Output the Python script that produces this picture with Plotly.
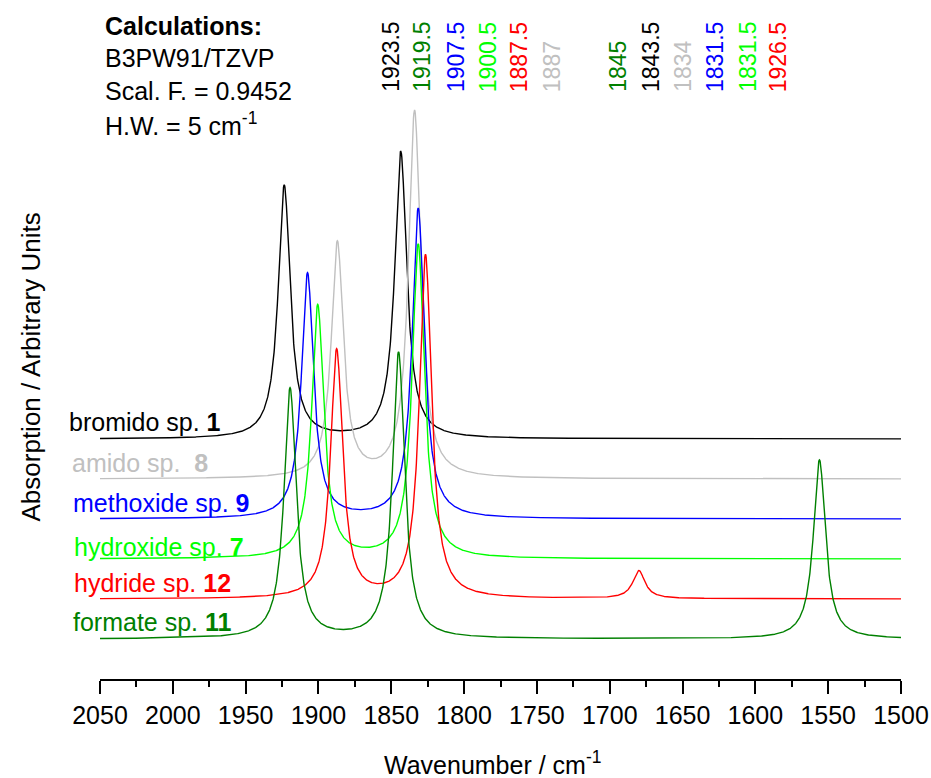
import numpy as np
import plotly.graph_objects as go

# ---------------- data ----------------
species = ["bromido sp. ", "amido sp. \u00a0", "methoxide sp. ", "hydroxide sp. ", "hydride sp. ", "formate sp. "]
numbers = ["1", "8", "9", "7", "12", "11"]
offsets = [200, 160, 120, 80, 40, 0]
peaks_bromido = [1923.5, 1843.5]
amps_bromido = [253, 287]
peaks_amido = [1887, 1834]
amps_amido = [235, 367]
peaks_methoxide = [1907.5, 1831.5]
amps_methoxide = [245, 310]
peaks_hydroxide = [1900.5, 1831.5]
amps_hydroxide = [253, 314]
peaks_hydride = [1887.5, 1826.5, 1680]
amps_hydride = [248, 343, 28]
peaks_formate = [1919.5, 1845, 1556]
amps_formate = [250, 286, 179]
half_width = 5.0  # cm^-1 (H.W.)

peak_labels = ["1923.5", "1919.5", "1907.5", "1900.5", "1887.5", "1887",
               "1845", "1843.5", "1834", "1831.5", "1831.5", "1926.5"]
peak_label_series = [0, 5, 2, 3, 4, 1, 5, 0, 1, 2, 3, 4]

x_ticks = list(range(1500, 2051, 50))

info_lines = ["<b>Calculations:</b>", "B3PW91/TZVP", "Scal. F. = 0.9452", "H.W. = 5 cm<sup>-1</sup>"]

# ---------------- style ----------------
colors = ["#000000", "#c0c0c0", "#0000ff", "#00ff00", "#ff0000", "#008000"]
FONT = "Liberation Sans, Arial, Helvetica, sans-serif"
FS = 25

W, H = 931, 778
ML, MR, MT, MB = 100, 30, 20, 99
PL, PR = ML, W - MR
PH = H - MT - MB


def px_x(p):
    return (p - PL) / (PR - PL)


def px_y(p):
    return (H - MB - p) / PH


all_peaks = [peaks_bromido, peaks_amido, peaks_methoxide, peaks_hydroxide, peaks_hydride, peaks_formate]
all_amps = [amps_bromido, amps_amido, amps_methoxide, amps_hydroxide, amps_hydride, amps_formate]

wn = np.linspace(2050, 1500, 2201)

fig = go.Figure()
for i in range(len(species)):
    y = np.full_like(wn, offsets[i], dtype=float)
    for p, a in zip(all_peaks[i], all_amps[i]):
        y += a * half_width ** 2 / ((wn - p) ** 2 + half_width ** 2)
    fig.add_trace(go.Scatter(x=wn, y=y, mode="lines",
                             line=dict(color=colors[i], width=1.4),
                             showlegend=False, hoverinfo="skip"))

annotations = []
# species labels (left)
label_pos = [(67, 422), (70, 463), (71, 503), (72, 547), (72, 583), (71, 622)]
for i, (lx, ly) in enumerate(label_pos):
    annotations.append(dict(
        x=px_x(lx), y=px_y(ly), xref="paper", yref="paper",
        xanchor="left", yanchor="middle", showarrow=False,
        text=species[i] + "<b>" + numbers[i] + "</b>",
        font=dict(family=FONT, size=FS, color=colors[i])))

# info text (top-left)
info_y = [26, 58, 91, 124]
for t, yy in zip(info_lines, info_y):
    annotations.append(dict(
        x=px_x(103), y=px_y(yy), xref="paper", yref="paper",
        xanchor="left", yanchor="middle", showarrow=False,
        text=t, font=dict(family=FONT, size=FS, color="#000000")))

# rotated peak labels
col_x = [390.7, 421.7, 456, 488.3, 519.3, 552.7, 618.3, 651, 683.3, 715, 747.7, 778.3]
for t, s, cx in zip(peak_labels, peak_label_series, col_x):
    annotations.append(dict(
        x=px_x(cx), y=px_y(94), xref="paper", yref="paper",
        xanchor="center", yanchor="bottom", showarrow=False,
        textangle=-90, text=t,
        font=dict(family=FONT, size=23, color=colors[s])))

# axis titles
annotations.append(dict(
    x=px_x(492), y=px_y(763), xref="paper", yref="paper",
    xanchor="center", yanchor="middle", showarrow=False,
    text="Wavenumber / cm<sup>-1</sup>",
    font=dict(family=FONT, size=FS, color="#000000")))
annotations.append(dict(
    x=px_x(30.5), y=px_y(367), xref="paper", yref="paper",
    xanchor="center", yanchor="middle", showarrow=False,
    textangle=-90, text="Absorption / Arbitrary Units",
    font=dict(family=FONT, size=26, color="#000000")))

fig.update_layout(
    width=W, height=H,
    margin=dict(l=ML, r=MR, t=MT, b=MB),
    paper_bgcolor="white", plot_bgcolor="white",
    annotations=annotations,
    xaxis=dict(
        range=[2050, 1500], tickvals=x_ticks, ticktext=[str(v) for v in x_ticks],
        ticks="outside", ticklen=13, tickwidth=1.5, tickcolor="black",
        showline=True, linecolor="black", linewidth=1.5,
        showgrid=False, zeroline=False, automargin=False,
        tickfont=dict(family=FONT, size=FS, color="black"),
        minor=dict(dtick=25, tick0=1500, ticks="outside", ticklen=6, tickwidth=1.5,
                   tickcolor="black", showgrid=False),
    ),
    yaxis=dict(range=[-40, 619], visible=False),
)

fig.write_html("out.html")
